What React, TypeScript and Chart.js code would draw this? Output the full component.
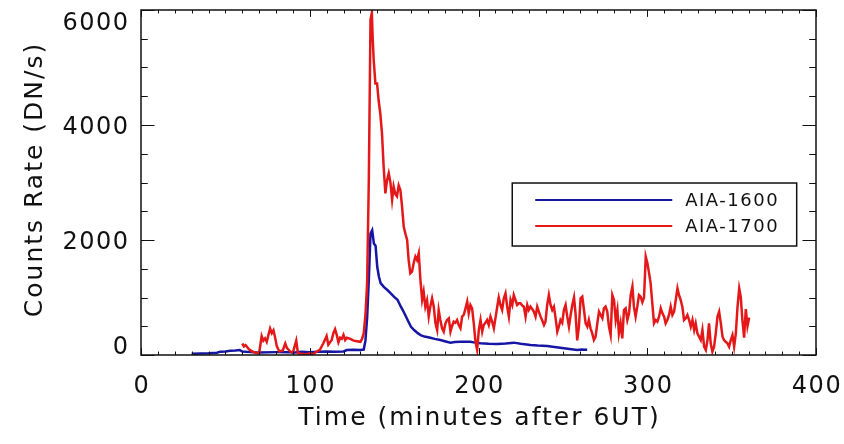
import React, { useEffect, useRef } from "react";
import { Chart, registerables } from "chart.js";

Chart.register(...registerables);

// ---- Data ----
const seriesLabels = ["AIA-1600", "AIA-1700"];
const seriesColors = ["rgb(22,22,165)", "rgb(228,24,24)"];

const time1600 = [
  30, 35, 40, 45, 47, 50, 53, 56, 58.5, 60, 65, 70, 80, 88, 90, 95, 100, 105, 110, 115, 120, 122, 126, 130, 132,
  133, 134, 135, 136, 137, 138, 139, 140, 141, 142, 144, 146, 148, 150, 152, 154, 156, 158, 160, 162, 164, 166, 168,
  171.5, 174, 177.4, 180, 183.4, 186, 189.3, 192, 195.2, 198, 201.2, 206, 211.1, 216, 220.9, 225, 230.8, 235, 240.7,
  245, 250.6, 255, 258.5, 261, 264.4,
];
const counts1600 = [
  20, 25, 30, 40, 58, 60, 75, 80, 87, 60, 50, 45, 50, 50, 40, 55, 50, 55, 60, 58, 62, 87, 90, 88, 95,
  250, 650, 1300, 2110, 2170, 1940, 1900, 1530, 1360, 1250, 1180, 1130, 1070, 1010, 960, 840, 730, 610, 490, 430, 380, 340, 320,
  300, 280, 260, 240, 215, 225, 232, 230, 230, 215, 203, 195, 190, 200, 215, 195, 174, 165, 157,
  140, 116, 100, 87, 95, 90,
];

const time1700 = [
  60, 61, 62, 64, 66, 68, 70, 71.5, 72.5, 73.5, 74.5, 76.5, 77.5, 78.5, 79.5, 80.5, 82, 84, 85.5, 86.5, 88.5, 90, 92, 93,
  95, 98, 100, 102, 104, 106, 108, 110, 111, 113, 114, 115, 116, 117, 118, 119, 120, 121, 122, 124, 126, 128, 130, 131,
  132, 133, 134, 135, 136, 136.8, 137.3, 137.9, 138.9, 139.9, 140.8, 141.8, 142.8, 143.8, 144.8, 145.8, 146.8, 147.8,
  148.8, 149.7, 150.7, 151.7, 152.7, 153.7, 154.7, 155.7, 156.7, 157.7, 158.6, 159.6, 160.6, 161.6, 162.6, 163.6, 164.6,
  165.6, 166.6, 167.5, 168.5, 169.5, 170.5, 171.5, 172.5, 173.5, 174.5, 175.5, 176.4, 177.4, 178.4, 179.4, 180.4, 181.4,
  182.4, 183.4, 184.3, 185.3, 186.3, 187.3, 188.3, 189.3, 190.3, 191.3, 192.3, 193.3, 194.2, 195.2, 196.2, 197.2, 198.2,
  199.2, 200.2, 201.2, 202.2, 203.1, 204.1, 205.1, 206.1, 207.1, 208.1, 209.1, 210.1, 211.1, 212, 213, 214, 215, 216,
  217, 218, 219, 220, 220.9, 221.9, 222.9, 223.9, 224.9, 225.9, 226.9, 227.9, 228.9, 229.8, 230.8, 231.8, 232.8, 233.8,
  234.8, 235.8, 236.8, 237.8, 238.8, 239.7, 240.7, 241.7, 242.7, 243.7, 244.7, 245.7, 246.7, 247.7, 248.6, 249.6, 250.6,
  251.6, 252.6, 253.6, 254.6, 255.6, 256.6, 257.5, 258.5, 259.5, 260.5, 261.5, 262.5, 263.5, 264.5, 265.4, 266.4, 267.4,
  268.4, 269.4, 270.4, 271.4, 272.4, 273.4, 274.3, 275.3, 276.3, 277.3, 278.3, 279.3, 280.3, 281.3, 282.3, 283.2, 284.2,
  285.2, 286.2, 287.2, 288.2, 289.2, 290.2, 291.2, 292.1, 293.1, 294.1, 295.1, 296.1, 297.1, 298.1, 299.1, 300.1, 301.1,
  302, 303, 304, 305, 306, 307, 308, 309, 310, 310.9, 311.9, 312.9, 313.9, 314.9, 315.9, 316.9, 317.9, 318.8, 319.8,
  320.8, 321.8, 322.8, 323.8, 324.8, 325.8, 326.8, 327.8, 328.7, 329.7, 330.7, 331.7, 332.7, 333.7, 334.7, 335.7, 336.6,
  337.6, 338.6, 339.6, 340.6, 341.6, 342.6, 343.6, 344.6, 345.5, 346.5, 347.5, 348.5, 349.5, 350.5, 351.5, 352.5, 353.5,
  354.5, 355.4, 356.4, 357.4, 358.4, 359.4, 360.4,
];
const counts1700 = [
  200, 150, 170, 100, 60, 40, 30, 330, 250, 290, 230, 460, 380, 430, 300, 150, 60, 80, 200, 120, 60, 40, 250, 30,
  20, 10, 30, 15, 60, 90, 200, 330, 180, 260, 380, 450, 350, 220, 300, 280, 350, 260, 300, 280, 250, 240, 230, 280,
  380, 700, 1250, 3040, 5830, 5950, 5500, 5130, 4720, 4720, 4430, 4200, 3860, 3270, 2810, 3040, 3160, 3000,
  2700, 2930, 2800, 2760, 2950, 2870, 2580, 2230, 2110, 2000, 1650, 1420, 1450, 1600, 1710, 1650, 1770,
  1300, 960, 1100, 840, 950, 670, 850, 986, 840, 551, 435, 783, 609, 464, 406, 550, 609,
  638, 406, 500, 580, 560, 609, 520, 464, 667, 700, 812, 928, 725, 870, 812, 551, 232,
  87, 435, 609, 406, 522, 560, 609, 522, 667, 580, 464, 650, 840, 1000, 870, 783, 986, 1072,
  840, 667, 957, 870, 1043, 957, 870, 899, 900, 860, 840, 667, 870, 783, 840, 800, 754, 667,
  840, 750, 667, 600, 522, 580, 870, 1043, 870, 783, 840, 638, 406, 500, 609, 560, 783,
  870, 667, 493, 700, 870, 1000, 725, 255, 493, 986, 1014, 783, 551, 493, 609, 464, 377,
  261, 319, 551, 754, 696, 638, 812, 841, 754, 493, 348, 1043, 957, 609, 783, 377, 551,
  290, 783, 812, 609, 725, 1043, 1188, 841, 667, 841, 1043, 1014, 917, 1000, 1710, 1594, 1420,
  1246, 899, 551, 609, 580, 667, 812, 725, 667, 551, 609, 696, 841, 696, 754, 957, 1159, 1043, 957,
  841, 609, 638, 696, 609, 493, 609, 435, 551, 377, 319, 261, 435, 145, 87, 261, 551,
  203, 58, 145, 377, 667, 754, 551, 319, 261, 230, 203, 145, 261, 348, 145, 377, 841,
  1159, 1014, 600, 300, 800, 500, 650,
];

const xMin = 0;
const xMax = 400;
const xMajorStep = 100;
const xMinorStep = 10;
const yMin = 0;
const yMax = 6000;
const yMajorStep = 2000;
const yMinorStep = 500;
const xTitle = "Time (minutes after 6UT)";
const yTitle = "Counts Rate (DN/s)";

const INK = "#111";

const idlPlugin = {
  id: "idlFrame",
  afterDatasetsDraw(chart: any) {
    const { ctx, chartArea: a, scales } = chart;
    const xs = scales.x;
    const ys = scales.y;
    ctx.save();
    // frame
    ctx.strokeStyle = INK;
    ctx.lineWidth = 1.5;
    ctx.strokeRect(a.left, a.top, a.right - a.left, a.bottom - a.top);
    // ticks
    ctx.lineWidth = 1;
    const h = a.bottom - a.top;
    const w = a.right - a.left;
    const xMajLen = 0.02 * h;
    const yMajLen = 0.02 * w;
    ctx.beginPath();
    for (let v = xMin; v <= xMax; v += xMinorStep) {
      const px = Math.round(xs.getPixelForValue(v)) + 0.5;
      const len = v % xMajorStep === 0 ? xMajLen : xMajLen / 2;
      ctx.moveTo(px, a.bottom);
      ctx.lineTo(px, a.bottom - len);
      ctx.moveTo(px, a.top);
      ctx.lineTo(px, a.top + len);
    }
    for (let v = yMin; v <= yMax; v += yMinorStep) {
      const py = Math.round(ys.getPixelForValue(v)) + 0.5;
      const len = v % yMajorStep === 0 ? yMajLen : yMajLen / 2;
      ctx.moveTo(a.left, py);
      ctx.lineTo(a.left + len, py);
      ctx.moveTo(a.right, py);
      ctx.lineTo(a.right - len, py);
    }
    ctx.stroke();

    // tick labels
    ctx.fillStyle = INK;
    ctx.font = '24px "DejaVu Sans"';
    (ctx as any).letterSpacing = "1.5px";
    ctx.textAlign = "center";
    ctx.textBaseline = "alphabetic";
    for (let v = xMin; v <= xMax; v += xMajorStep) {
      const px = xs.getPixelForValue(v);
      ctx.fillText(String(v), px + 1, a.bottom + 38);
    }
    ctx.textAlign = "right";
    for (let v = yMin; v <= yMax; v += yMajorStep) {
      let py = ys.getPixelForValue(v);
      py = Math.min(Math.max(py, a.top + 11), a.bottom - 10);
      ctx.fillText(String(v), a.left - 11.5, py + 8.7);
    }

    // axis titles
    ctx.font = '25px "DejaVu Sans"';
    (ctx as any).letterSpacing = "2px";
    ctx.textAlign = "center";
    ctx.fillText(xTitle, (a.left + a.right) / 2 + 1, a.bottom + 70);
    ctx.save();
    ctx.translate(42, (a.top + a.bottom) / 2 - 3);
    ctx.rotate(-Math.PI / 2);
    ctx.fillText(yTitle, 0, 0);
    ctx.restore();

    // legend box
    const bx = a.left + 0.55 * w;
    const by = a.top + 0.5015 * h;
    const bw = 0.4214 * w;
    const bh = 0.1826 * h;
    ctx.fillStyle = "#fff";
    ctx.fillRect(bx, by, bw, bh);
    ctx.strokeStyle = INK;
    ctx.lineWidth = 1.5;
    ctx.strokeRect(bx, by, bw, bh);
    ctx.font = '18px "DejaVu Sans"';
    (ctx as any).letterSpacing = "1.5px";
    ctx.textAlign = "left";
    ctx.textBaseline = "middle";
    chart.data.datasets.forEach((ds: any, i: number) => {
      const ly = by + 17 + i * 26;
      ctx.strokeStyle = ds.borderColor;
      ctx.lineWidth = 2;
      ctx.beginPath();
      ctx.moveTo(bx + 23, ly);
      ctx.lineTo(bx + 160, ly);
      ctx.stroke();
      ctx.fillStyle = INK;
      ctx.fillText(ds.label, bx + 173, ly + 1);
    });
    ctx.restore();
  },
};

export default function App() {
  const canvasRef = useRef<HTMLCanvasElement | null>(null);

  useEffect(() => {
    document.body.style.margin = "0";
    const canvas = canvasRef.current;
    if (!canvas) return;
    const chart = new Chart(canvas, {
      type: "line",
      data: {
        datasets: [
          {
            label: seriesLabels[0],
            data: time1600.map((t, i) => ({ x: t, y: counts1600[i] })),
            borderColor: seriesColors[0],
            borderWidth: 2.5,
            pointRadius: 0,
            tension: 0,
            fill: false,
            order: 2,
          },
          {
            label: seriesLabels[1],
            data: time1700.map((t, i) => ({ x: t, y: counts1700[i] })),
            borderColor: seriesColors[1],
            borderWidth: 2.5,
            pointRadius: 0,
            tension: 0,
            fill: false,
            order: 1,
          },
        ],
      },
      options: {
        animation: false,
        responsive: false,
        maintainAspectRatio: false,
        layout: { padding: { left: 0, top: 10, right: 28, bottom: 0 } },
        plugins: { legend: { display: false }, tooltip: { enabled: false }, title: { display: false } },
        scales: {
          x: {
            type: "linear",
            min: xMin,
            max: xMax,
            grid: { display: false, drawTicks: false },
            border: { display: false },
            ticks: { display: false },
            afterFit: (s: any) => {
              s.height = 89;
            },
          },
          y: {
            type: "linear",
            min: yMin,
            max: yMax,
            grid: { display: false, drawTicks: false },
            border: { display: false },
            ticks: { display: false },
            afterFit: (s: any) => {
              s.width = 141;
            },
          },
        },
      },
      plugins: [idlPlugin],
    });
    return () => chart.destroy();
  }, []);

  return (
    <div style={{ width: 844, height: 444, background: "#fff" }}>
      <canvas ref={canvasRef} width={844} height={444} />
    </div>
  );
}
